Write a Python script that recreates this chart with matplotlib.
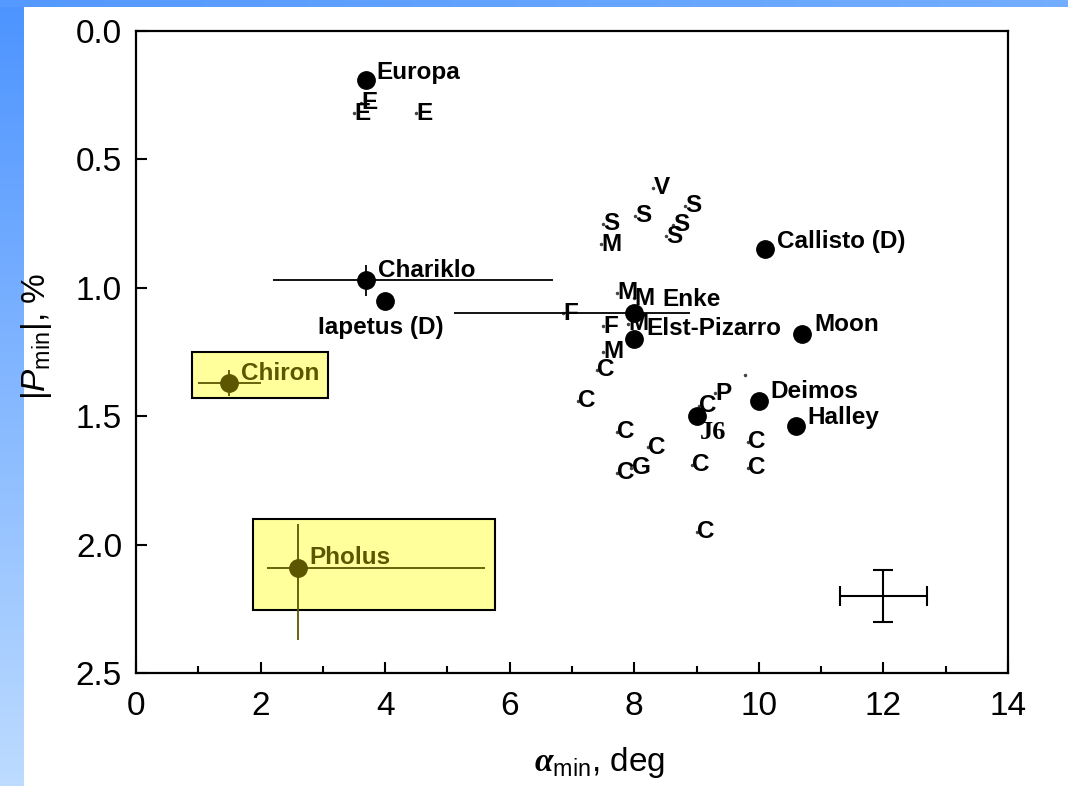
import matplotlib.pyplot as plt
import numpy as np
from matplotlib.patches import Rectangle

plt.rcParams['font.family'] = ['Liberation Sans', 'DejaVu Sans']
plt.rcParams['mathtext.fontset'] = 'custom'
plt.rcParams['mathtext.rm'] = 'Liberation Sans'
plt.rcParams['mathtext.it'] = 'Liberation Sans:italic'
plt.rcParams['mathtext.cal'] = 'Liberation Serif:italic:bold'
plt.rcParams['mathtext.bf'] = 'Liberation Sans:bold'

# named objects (filled circles)
obj_names = ['Europa', 'Chariklo', 'Iapetus (D)', 'Enke', 'Elst-Pizarro',
             'Callisto (D)', 'Moon', 'Deimos', 'Halley', 'J6']
obj_alpha = [3.7, 3.7, 4.0, 8.0, 8.0, 10.1, 10.7, 10.0, 10.6, 9.0]
obj_pmin = [0.19, 0.97, 1.05, 1.10, 1.20, 0.85, 1.18, 1.44, 1.54, 1.50]

# error bars for Chariklo and Enke (lower, upper)
err_names = ['Chariklo', 'Enke']
err_alpha_lo = [1.5, 2.9]
err_alpha_hi = [3.0, 0.9]
err_pmin = [0.06, 0.0]

# centaurs (highlighted)
cent_names = ['Chiron', 'Pholus']
cent_alpha = [1.5, 2.6]
cent_pmin = [1.37, 2.09]
cent_alpha_lo = [0.5, 0.5]
cent_alpha_hi = [0.5, 3.0]
cent_pmin_lo = [0.05, 0.17]
cent_pmin_hi = [0.05, 0.28]

# asteroid taxonomic classes
tax_class = ['E', 'E', 'E', 'V', 'S', 'S', 'M', 'S', 'S', 'S',
             'M', 'M', 'F', 'F', 'M', 'M', 'C', 'C', 'C', 'C',
             'C', 'G', 'C', 'C', 'C', 'C', 'C', 'P', '']
tax_alpha = [3.50, 3.61, 4.49, 8.30, 8.01, 7.50, 7.46, 8.81, 8.62, 8.51,
             7.72, 8.00, 6.85, 7.50, 7.90, 7.50, 7.40, 7.09, 7.72, 8.22,
             7.72, 7.95, 8.92, 9.82, 9.82, 9.00, 9.04, 9.29, 9.78]
tax_pmin = [0.32, 0.28, 0.32, 0.61, 0.72, 0.75, 0.83, 0.68, 0.755, 0.80,
            1.02, 1.04, 1.10, 1.15, 1.14, 1.25, 1.32, 1.44, 1.56, 1.62,
            1.72, 1.70, 1.69, 1.60, 1.70, 1.95, 1.46, 1.41, 1.34]

# typical error cross
typ_alpha, typ_pmin = 12.0, 2.2
typ_alpha_err, typ_pmin_err = 0.7, 0.1

olive = '#5c5600'
lab_fs = 17.5

fig = plt.figure(figsize=(10.68, 7.86), dpi=100)

# slide background strips
grad = np.linspace(0, 1, 256).reshape(-1, 1)
c_top = np.array([0.30, 0.58, 1.0])
c_bot = np.array([0.74, 0.86, 1.0])
left_img = c_top + grad[:, :, None] * (c_bot - c_top)
bg_left = fig.add_axes([0, 0, 24 / 1068, 1])
bg_left.imshow(left_img, aspect='auto')
bg_left.axis('off')
hgrad = np.linspace(0, 1, 256).reshape(1, -1)
top_img = np.array([0.33, 0.6, 1.0]) + hgrad[:, :, None] * (np.array([0.45, 0.68, 1.0]) - np.array([0.33, 0.6, 1.0]))
bg_top = fig.add_axes([0, 1 - 7 / 786, 1, 7 / 786])
bg_top.imshow(top_img, aspect='auto')
bg_top.axis('off')

ax = fig.add_axes([136 / 1068, 1 - 673 / 786, 872 / 1068, 642 / 786])

# highlight boxes
ax.add_patch(Rectangle((0.90, 1.25), 2.18, 0.18, facecolor='#ffff9c',
                       edgecolor='black', lw=1.5, zorder=1))
ax.add_patch(Rectangle((1.88, 1.90), 3.88, 0.355, facecolor='#ffff9c',
                       edgecolor='black', lw=1.5, zorder=1))

# taxonomy letters
ax.plot(tax_alpha, tax_pmin, 'o', color='#444444', ms=1.5, zorder=2)
for c, x, y in zip(tax_class, tax_alpha, tax_pmin):
    ax.annotate(c, (x, y), xytext=(0.3, 0), textcoords='offset points',
                ha='left', va='center', fontsize=lab_fs, fontweight='bold', zorder=3)

# error bars
for n, lo, hi, pe in zip(err_names, err_alpha_lo, err_alpha_hi, err_pmin):
    i = obj_names.index(n)
    ax.errorbar(obj_alpha[i], obj_pmin[i], xerr=[[lo], [hi]],
                yerr=pe if pe > 0 else None, fmt='none', ecolor='black',
                elinewidth=1.3, capsize=0, zorder=4)

ax.plot(obj_alpha, obj_pmin, 'o', color='black', ms=12.5, zorder=5)

label_off = {'Europa': (7.5, 5), 'Chariklo': (8, 7), 'Iapetus (D)': (-3, -19.5),
             'Enke': (20, 10), 'Elst-Pizarro': (8.6, 8), 'Callisto (D)': (8.6, 5.8),
             'Moon': (8.6, 7), 'Deimos': (8.6, 6.5), 'Halley': (8, 6.5), 'J6': (2, -11.5)}
for n, x, y in zip(obj_names, obj_alpha, obj_pmin):
    dx, dy = label_off[n]
    if n == 'J6':
        ax.annotate(n, (x, y), xytext=(dx, dy), textcoords='offset points',
                    ha='left', va='center', fontsize=19, fontweight='bold',
                    family='Liberation Serif', zorder=6)
    else:
        ax.annotate(n, (x, y), xytext=(dx, dy), textcoords='offset points',
                    ha='center' if n == 'Iapetus (D)' else 'left', va='center',
                    fontsize=lab_fs, fontweight='bold', zorder=6)

# centaurs
ax.errorbar(cent_alpha, cent_pmin, xerr=[cent_alpha_lo, cent_alpha_hi],
            yerr=[cent_pmin_lo, cent_pmin_hi], fmt='o', color=olive, ms=12.5,
            ecolor=olive, elinewidth=1.3, capsize=0, zorder=5)
cent_off = {'Chiron': (8.6, 7), 'Pholus': (8, 7)}
for n, x, y in zip(cent_names, cent_alpha, cent_pmin):
    ax.annotate(n, (x, y), xytext=cent_off[n], textcoords='offset points',
                ha='left', va='center', fontsize=lab_fs, fontweight='bold',
                color=olive, zorder=6)

# typical error
ax.errorbar(typ_alpha, typ_pmin, xerr=typ_alpha_err, yerr=typ_pmin_err,
            fmt='none', ecolor='black', elinewidth=1.5, capsize=7, capthick=1.5)

ax.set_xlim(0, 14)
ax.set_ylim(2.5, 0.0)
ax.set_xticks(np.arange(0, 15, 2))
ax.set_xticks(np.arange(1, 14, 2), minor=True)
ax.set_yticks(np.arange(0, 2.51, 0.5))
ax.yaxis.set_major_formatter(plt.FormatStrFormatter('%.1f'))
ax.tick_params(which='both', direction='in', labelsize=24, width=1.5)
ax.tick_params(axis='x', which='major', length=8, pad=13)
ax.tick_params(axis='y', which='major', length=8, pad=10)
ax.tick_params(which='minor', length=5)
for s in ax.spines.values():
    s.set_linewidth(1.6)

ax.set_xlabel(r'$\mathcal{\alpha}_{\rm min}$, deg', fontsize=24)
ax.xaxis.set_label_coords(0.532, -0.112)
ax.set_ylabel(r'$|P_{\rm min}|$, %', fontsize=24)
ax.yaxis.set_label_coords(-0.094, 0.525)

fig.savefig('out.png', dpi=100)
